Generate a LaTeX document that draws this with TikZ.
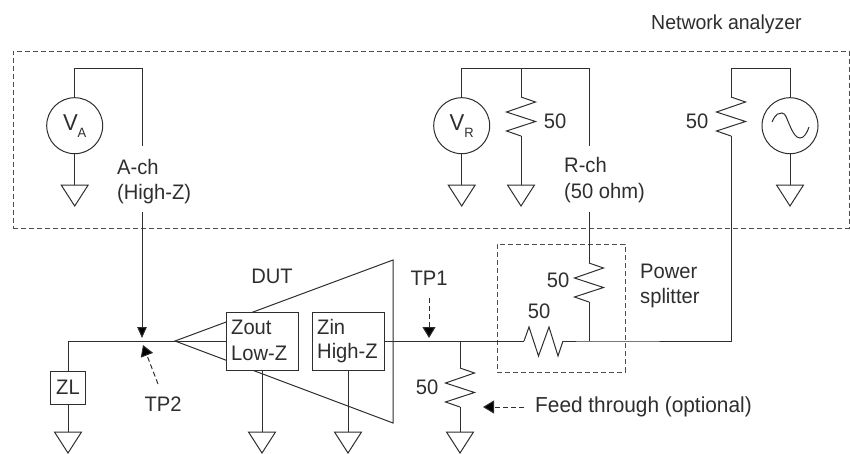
\documentclass[tikz,border=0pt]{standalone}
\usepackage{fontspec}
\setmainfont[FakeStretch=0.96]{Liberation Sans}
\usetikzlibrary{arrows.meta}
\definecolor{ink}{HTML}{2E2E2E}
\tikzset{
  x=1pt,y=-1pt,
  wire/.style={draw=ink,line width=1pt,line join=miter},
  dashbox/.style={draw=ink!85,line width=0.9pt,dash pattern=on 5pt off 3pt},
  dasharrow/.style={draw=ink,line width=1pt,dash pattern=on 5pt off 3pt,-{Triangle[length=11pt,width=13pt,fill=black]}},
  instr/.style={circle,draw=ink,line width=1pt,minimum size=56pt,inner sep=0pt,fill=white},
  imp/.style={rectangle,draw=ink,line width=1pt,fill=white,inner sep=0pt},
  lbl/.style={text=ink,font=\fontsize{21}{24}\selectfont,inner sep=0pt},
  lbll/.style={lbl,anchor=west},
  gnd/.pic={\draw[wire] (-13.5,0) -- (13.5,0) -- (0,21) -- cycle;},
  vres/.pic={\draw[wire] (0,0) -- (14.5,5) -- (-14.5,15) -- (14.5,24.5) -- (-14.5,34) -- (0,39);},
}
\newcommand{\vlabel}[1]{\fontsize{23}{24}\selectfont V\raisebox{-0.3em}{\fontsize{13.5}{14}\selectfont #1}}
\begin{document}
\begin{tikzpicture}
\useasboundingbox (0,0) rectangle (850,453);
% enclosures
\node[dashbox,rectangle,minimum width=836pt,minimum height=177pt,inner sep=0pt] (NA) at (431,139.5) {};
\node[dashbox,rectangle,minimum width=128pt,minimum height=128pt,inner sep=0pt] (PS) at (561,308) {};
% instruments
\node[instr,text=ink] (VA) at (74.7,125.7) {\vlabel{A}};
\node[instr,text=ink] (VR) at (461.7,125.7) {\vlabel{R}};
\node[instr] (SRC) at (790,125.7) {};
\draw[wire] (772,122) .. controls (776,113) and (779,113) .. (782,113)
  .. controls (786,113) and (787,120) .. (790,126)
  .. controls (793,133) and (796,138) .. (800,138)
  .. controls (804,138) and (807,133) .. (809,127);
% coordinates
\coordinate (achT) at (142,68);
\coordinate (achA) at (142,146);
\coordinate (achB) at (142,212);
\coordinate (tp2hit) at (142,338);
\coordinate (rchT) at (589,68);
\coordinate (rchA) at (589,146);
\coordinate (rchB) at (589,212);
\coordinate (r1T) at (521,97);
\coordinate (r1B) at (521,136);
\coordinate (r1J) at (521,68);
\coordinate (r2T) at (731,97);
\coordinate (r2B) at (731,136);
\coordinate (r2J) at (731,68);
\coordinate (r3T) at (589,263);
\coordinate (r3B) at (589,302);
\coordinate (r4T) at (460,368);
\coordinate (r4B) at (460,407);
\coordinate (rsL) at (524,341);
\coordinate (rsR) at (563,341);
\coordinate (jR) at (589,341);
\coordinate (j4) at (460,341);
\coordinate (corner) at (731,341);
\coordinate (apex) at (175,341);
\coordinate (dutTR) at (393,260);
\coordinate (dutBR) at (393,423);
\coordinate (zlJ) at (68,341);
\coordinate (g1) at (74.7,185);
\coordinate (g2) at (461.7,185);
\coordinate (g3) at (521,185);
\coordinate (g4) at (790,185);
\coordinate (g5) at (68,432);
\coordinate (g6) at (262,432);
\coordinate (g7) at (348,432);
\coordinate (g8) at (460,432);
% DUT triangle (behind the boxes)
\draw[wire] (apex) -- (dutTR) -- (dutBR) -- cycle;
\node[imp,minimum width=72pt,minimum height=58pt] (Zout) at (262,341) {};
\node[imp,minimum width=72pt,minimum height=58pt] (Zin) at (348,341) {};
\node[imp,minimum width=35.5pt,minimum height=33pt] (ZL) at (68,387.5) {};
\node[lbl] at (ZL) {ZL};
\node[lbll] at (231,327) {Zout};
\node[lbll] at (231,353) {Low-Z};
\node[lbll] at (317,327) {Zin};
\node[lbll] at (317,353) {High-Z};
% top wiring
\draw[wire] (VA.north) |- (achT) -- (achA);
\draw[wire] (VR.north) |- (rchT) -- (rchA);
\draw[wire] (r1J) -- (r1T);
\draw[wire] (r1B) -- (g3);
\draw[wire] (SRC.north) |- (r2J) -- (r2T);
\draw[wire] (VA.south) -- (g1);
\draw[wire] (VR.south) -- (g2);
\draw[wire] (SRC.south) -- (g4);
\draw[wire] (rchB) -- (r3T);
\draw[wire] (r2B) -- (corner) -- (jR) -- (rsR);
\draw[wire] (r3B) -- (jR);
% lower wiring
\draw[wire] (apex) -- (Zout.west);
\draw[wire] (apex) -- (zlJ) -- (ZL.north);
\draw[wire] (ZL.south) -- (g5);
\draw[wire] (Zout.south) -- (g6);
\draw[wire] (Zin.south) -- (g7);
\draw[wire] (Zin.east) -- (rsL);
\draw[wire] (rsL) -- (529,327) -- (538.5,356) -- (549,327) -- (558,356) -- (rsR);
\draw[wire] (j4) -- (r4T);
\draw[wire] (r4B) -- (g8);
% resistors
\pic at (r1T) {vres};
\pic at (r2T) {vres};
\pic at (r3T) {vres};
\pic at (r4T) {vres};
% grounds
\foreach \g in {g1,g2,g3,g4,g5,g6,g7,g8} \pic at (\g) {gnd};
% A-ch arrow
\draw[draw=ink,line width=1pt,-{Triangle[length=11pt,width=9.5pt,fill=black]}] (achB) -- (tp2hit);
% test-point arrows
\coordinate (tp2s) at (158,384);
\coordinate (tp2e) at (143,345);
\coordinate (tp1s) at (429,298);
\coordinate (tp1e) at (429,338);
\coordinate (fts) at (524,407);
\coordinate (fte) at (483,407);
\draw[dasharrow] (tp2s) -- (tp2e);
\draw[dasharrow] (tp1s) -- (tp1e);
\draw[dasharrow] (fts) -- (fte);
% labels
\node[lbll,font=\fontsize{20.3}{24}\selectfont] (NAl) at (651,24) {Network analyzer};
\node[lbll] (ACHa) at (117,167) {A-ch};
\node[lbll] (ACHb) at (117,194) {(High-Z)};
\node[lbll] (RCHa) at (564,165) {R-ch};
\node[lbll] (RCHb) at (564,193) {(50 ohm)};
\node[lbl] (R1l) at (555,121) {50};
\node[lbl] (R2l) at (697,121) {50};
\node[lbl] (R3l) at (558,280) {50};
\node[lbl] (RSl) at (539,311) {50};
\node[lbl] (R4l) at (427,387) {50};
\node[lbl] (DUTl) at (272,276) {DUT};
\node[lbl] (TP1l) at (429,278) {TP1};
\node[lbl] (TP2l) at (163,404) {TP2};
\node[lbll] (PSa) at (640,271) {Power};
\node[lbll] (PSb) at (640,298) {splitter};
\node[lbll,font=\fontsize{21.7}{24}\selectfont] (FTl) at (535,407) {Feed through (optional)};
\end{tikzpicture}
\end{document}
